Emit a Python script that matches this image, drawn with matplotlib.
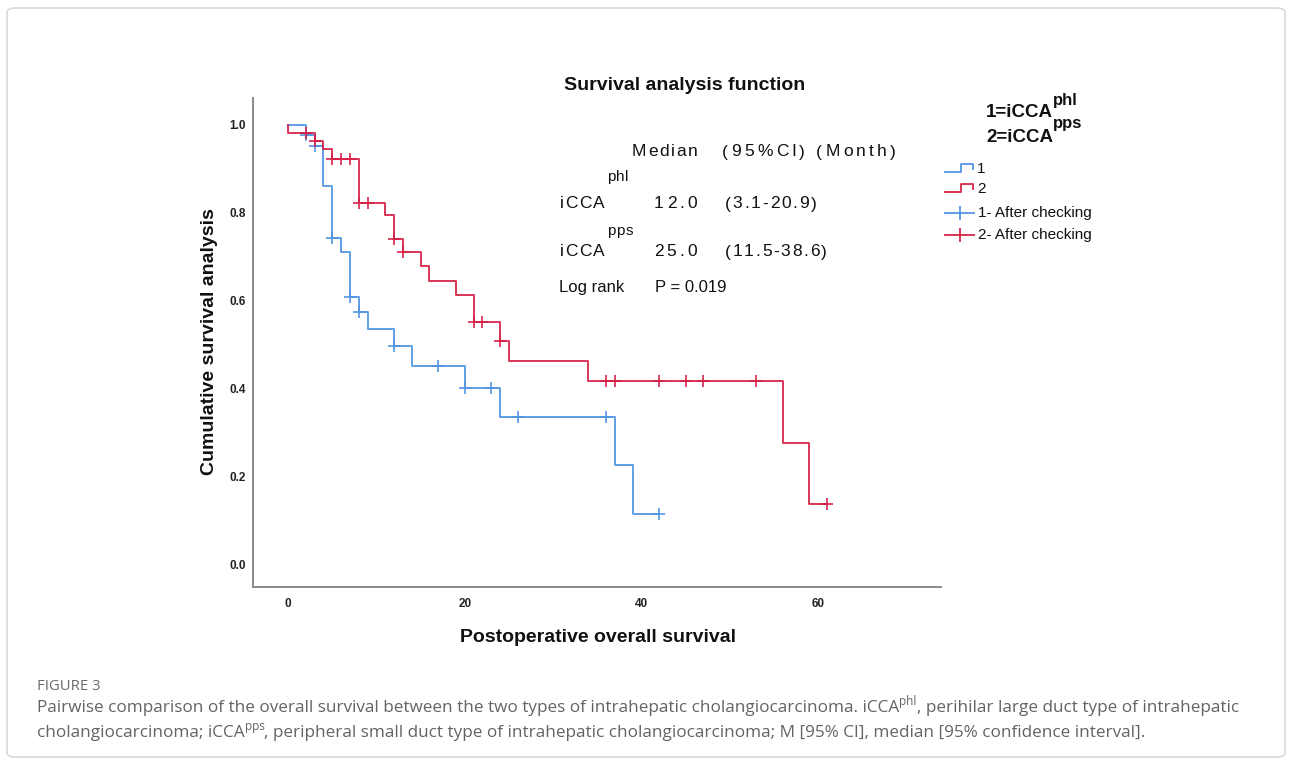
import matplotlib
matplotlib.use('Agg')
import matplotlib.pyplot as plt
import numpy as np
from matplotlib.patches import FancyBboxPatch
from matplotlib.lines import Line2D
from matplotlib.font_manager import FontProperties

W, H = 1292, 764
plt.rcParams['font.family'] = ['Liberation Sans', 'DejaVu Sans']

# ---------------- data ----------------
# Group 1 = iCCA phl (blue)
g1_times = [0, 2, 3, 4, 5, 6, 7, 8, 9, 12, 14, 20, 24, 37, 39]
g1_surv = [1.0, 0.976, 0.952, 0.861, 0.744, 0.710, 0.608, 0.574, 0.536,
           0.497, 0.453, 0.403, 0.337, 0.227, 0.115]
g1_end = 42
g1_censor = [2, 3, 5, 7, 8, 12, 17, 20, 23, 26, 36, 42]

# Group 2 = iCCA pps (red)
g2_times = [0, 0, 3, 4, 5, 8, 11, 12, 13, 15, 16, 19, 21, 24, 25, 34, 56, 59]
g2_surv = [1.0, 0.982, 0.964, 0.945, 0.923, 0.823, 0.796, 0.740, 0.710,
           0.680, 0.646, 0.614, 0.551, 0.509, 0.463, 0.417, 0.278, 0.139]
g2_end = 61
g2_censor = [2, 3, 5, 6, 7, 8, 9, 12, 13, 21, 22, 24, 36, 37, 42, 45, 47, 53, 61]

x_ticks = [0, 20, 40, 60]
y_ticks = [0.0, 0.2, 0.4, 0.6, 0.8, 1.0]

BLUE = '#4F94E3'
RED = '#D51F45'

# ---------------- figure ----------------
fig = plt.figure(figsize=(W / 100, H / 100), dpi=100)
fig.patch.set_facecolor('white')
renderer = fig.canvas.get_renderer()


def fx(x):
    return x / W


def fy(y):
    return 1 - y / H


# outer frame
frame = FancyBboxPatch((fx(7), fy(757)), fx(1285) - fx(7), fy(8) - fy(757),
                       boxstyle='round,pad=0,rounding_size=0.006',
                       transform=fig.transFigure, facecolor='none',
                       edgecolor='#d2d2d2', linewidth=1.0)
fig.add_artist(frame)

ax = fig.add_axes([fx(253), fy(587), fx(941) - fx(253), fy(98) - fy(587)])
ax.set_xlim(-3.96, 73.9)
ax.set_ylim(-0.05, 1.061)
for s in ['top', 'right']:
    ax.spines[s].set_visible(False)
for s in ['left', 'bottom']:
    ax.spines[s].set_color('#8a8a8a')
    ax.spines[s].set_linewidth(1.4)
ax.set_xticks(x_ticks)
ax.set_xticklabels([str(v) for v in x_ticks], fontsize=8.5, fontweight='bold')
ax.set_yticks(y_ticks)
ax.set_yticklabels([f'{v:.1f}' for v in y_ticks], fontsize=8.5, fontweight='bold')
ax.tick_params(axis='x', length=0, pad=8, colors='#222222')
ax.tick_params(axis='y', length=0, pad=5, colors='#222222')


def km(times, surv, end, censor, color):
    xs = list(times) + [end]
    ys = list(surv) + [surv[-1]]
    ax.plot(xs, ys, drawstyle='steps-post', color=color, lw=1.4, alpha=0.9)
    idx = np.searchsorted(np.array(times), np.array(censor), side='right') - 1
    cy = np.array(surv)[idx]
    ax.plot(censor, cy, linestyle='none', marker='+', markersize=9,
            markeredgewidth=1.3, color=color, alpha=0.9)


km(g1_times, g1_surv, g1_end, g1_censor, BLUE)
km(g2_times, g2_surv, g2_end, g2_censor, RED)


# ---------------- text helpers ----------------
def adv_prop(s, prop):
    w1, _, _ = renderer.get_text_width_height_descent('x' + s + 'x', prop, ismath=False)
    w0, _, _ = renderer.get_text_width_height_descent('xx', prop, ismath=False)
    return w1 - w0


def adv(s, size, weight='normal'):
    prop = FontProperties(family=['Liberation Sans'], size=size, weight=weight)
    return adv_prop(s, prop)


def spaced(x, y, s, size, track, weight='normal', color='#111111'):
    cur = x
    for ch in s:
        if ch != ' ':
            fig.text(fx(cur), fy(y), ch, fontsize=size, fontweight=weight,
                     color=color, ha='left', va='center')
        cur += adv(ch, size, weight) + track


def rich(x, y, pieces, color='#111111', family=None):
    cur = x
    for txt, size, dy, weight in pieces:
        kw = {}
        if family:
            kw['family'] = family
        t = fig.text(fx(cur), fy(y + dy), txt, fontsize=size, fontweight=weight,
                     color=color, ha='left', va='baseline', **kw)
        cur += adv_prop(txt, t.get_fontproperties())


# title and axis labels
fig.text(fx(685), fy(85), 'Survival analysis function', fontsize=14,
         fontweight='bold', ha='center', va='center', color='#111111')
fig.text(fx(598), fy(638), 'Postoperative overall survival', fontsize=14,
         fontweight='bold', ha='center', va='center', color='#111111')
fig.text(fx(210), fy(342), 'Cumulative survival analysis', fontsize=14,
         fontweight='bold', ha='center', va='center', rotation=90, color='#111111')

# in-plot annotation
TS = 12.5
spaced(632, 152, 'Median', TS, 1.7)
spaced(722, 152, '(95%CI)', TS, 3.2)
spaced(816, 152, '(Month)', TS, 3.3)
spaced(607, 177, 'phl', 11, 0.8)
spaced(560, 204, 'iCCA', TS, 1.4)
spaced(654, 204, '12.0', TS, 3.0)
spaced(725, 204, '(3.1-20.9)', TS, 1.8)
spaced(607, 231, 'pps', 11, 0.8)
spaced(560, 252, 'iCCA', TS, 1.4)
spaced(654, 252, '25.0', TS, 3.0)
spaced(725, 252, '(11.5-38.6)', TS, 1.65)
fig.text(fx(559), fy(288), 'Log rank', fontsize=12, ha='left', va='center', color='#111111')
fig.text(fx(655), fy(288), 'P = 0.019', fontsize=12, ha='left', va='center', color='#111111')

# legend header
rich(986, 117, [('1=iCCA', 13.5, 0, 'bold'), ('phl', 12, -12, 'bold')])
rich(986, 142, [('2=iCCA', 13.5, 0, 'bold'), ('pps', 12, -14, 'bold')])


# legend entries
def fig_line(xs, ys, color, lw=1.4):
    fig.add_artist(Line2D([fx(v) for v in xs], [fy(v) for v in ys],
                          transform=fig.transFigure, color=color, lw=lw, alpha=0.9))


for yb, col, lab in [(172, BLUE, '1'), (192, RED, '2')]:
    fig_line([945, 961, 961, 973, 973], [yb, yb, yb - 8, yb - 8, yb - 3], col)
    fig.text(fx(977), fy(yb - 3), lab, fontsize=11, ha='left', va='center', color='#111111')

for yc, col, lab in [(213, BLUE, '1- After checking'), (235, RED, '2- After checking')]:
    fig_line([945, 974], [yc, yc], col)
    fig_line([959.5, 959.5], [yc - 6, yc + 6], col)
    fig.text(fx(978), fy(yc), lab, fontsize=11, ha='left', va='center', color='#111111')

# caption
CAP = '#636363'
CS = 12.3
fig.text(fx(37), fy(690), 'FIGURE 3', fontsize=10.7, family='Open Sans',
         color='#6a6a6a', ha='left', va='baseline')
rich(37, 712, [('Pairwise comparison of the overall survival between the two types of '
                'intrahepatic cholangiocarcinoma. iCCA', CS, 0, 'normal'),
               ('phl', 8.5, -7, 'normal'),
               (', perihilar large duct type of intrahepatic', CS, 0, 'normal')],
     color=CAP, family='Open Sans')
rich(37, 737, [('cholangiocarcinoma; iCCA', CS, 0, 'normal'),
               ('pps', 8.5, -7, 'normal'),
               (', peripheral small duct type of intrahepatic cholangiocarcinoma; '
                'M [95% CI], median [95% confidence interval].', CS, 0, 'normal')],
     color=CAP, family='Open Sans')

fig.savefig('out.png', dpi=100, facecolor='white')
